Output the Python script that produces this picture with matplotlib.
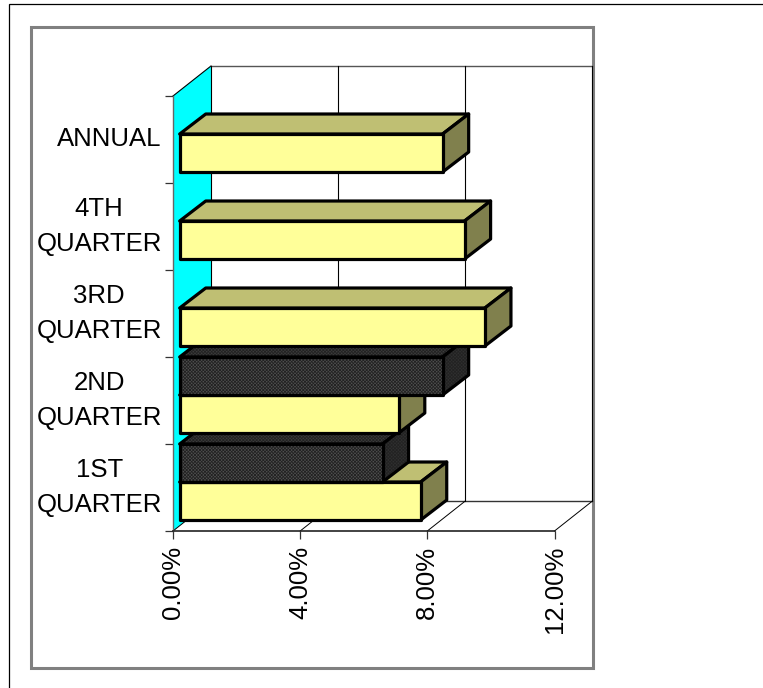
#!/usr/bin/env python

import matplotlib
matplotlib.use('Agg')
import matplotlib.pyplot as plt
from matplotlib.patches import Polygon, Rectangle

plt.rcParams['font.family'] = ['Liberation Sans', 'DejaVu Sans']
plt.rcParams['hatch.linewidth'] = 0.6

categories = ['1ST\nQUARTER', '2ND\nQUARTER', '3RD\nQUARTER', '4TH\nQUARTER', 'ANNUAL']
light_values = [7.58, 6.89, 9.60, 8.96, 8.27]
dark_values = [6.38, 8.27, None, None, None]
xticks = [0, 4, 8, 12]
xticklabels = ['0.00%', '4.00%', '8.00%', '12.00%']

W, H = 763, 688

# 3D look: depth of the box and of the bars, in data units
wall_dx, wall_dy = 1.195, 0.345
bar_dx, bar_dy = 0.82, 0.23
start = 0.21
gap = 0.126
bar_h = 0.437

fig = plt.figure(figsize=(W / 100, H / 100), dpi=100)
fig.patch.set_facecolor('white')

# outer border and chart frame
fig.add_artist(Rectangle((8.7 / W, -0.1), 1, 1 - 4.5 / H + 0.1, transform=fig.transFigure,
                         fill=False, ec='black', lw=0.9, zorder=-2))
fig.add_artist(Rectangle((30.8 / W, 1 - 667.5 / H), 562 / W, 640.5 / H, transform=fig.transFigure,
                         fill=False, ec='#808080', lw=2.2, zorder=-1))

ax = fig.add_axes([173 / W, 1 - 531 / H, 381.5 / W, 435 / H])
ax.patch.set_visible(False)
ax.set_xlim(0, 12)
ax.set_ylim(0, 5)

# side wall, back wall lines and floor
ax.add_patch(Polygon([(0, 0), (wall_dx, wall_dy), (wall_dx, 5 + wall_dy), (0, 5)],
                     fc='#00FFFF', ec='none', clip_on=False, zorder=1))
ax.plot([0, wall_dx], [5, 5 + wall_dy], color='black', lw=0.8, clip_on=False, zorder=2)
ax.plot([wall_dx, 12 + wall_dx], [5 + wall_dy] * 2, color='#555555', lw=1.0, clip_on=False, zorder=2)
ax.plot([wall_dx, 12 + wall_dx], [wall_dy] * 2, color='#333333', lw=1.0, clip_on=False, zorder=2)
for t in xticks:
    ax.plot([t + wall_dx] * 2, [wall_dy, 5 + wall_dy], color='black', lw=0.8, clip_on=False, zorder=2)
    ax.plot([t, t + wall_dx], [0, wall_dy], color='black', lw=0.7, clip_on=False, zorder=2)


def draw_bar(y0, value, front, top, side, z, hatch=None):
    x0 = start
    x1 = start + value
    y1 = y0 + bar_h
    faces = [
        ([(x0, y1), (x0 + bar_dx, y1 + bar_dy), (x1 + bar_dx, y1 + bar_dy), (x1, y1)], top),
        ([(x1, y0), (x1 + bar_dx, y0 + bar_dy), (x1 + bar_dx, y1 + bar_dy), (x1, y1)], side),
        ([(x0, y0), (x1, y0), (x1, y1), (x0, y1)], front),
    ]
    for pts, color in faces:
        if hatch:
            ax.add_patch(Polygon(pts, fc=color, ec='#222222', hatch=hatch, lw=0, clip_on=False, zorder=z))
            ax.add_patch(Polygon(pts, fill=False, ec='black', lw=2.3, joinstyle='round', clip_on=False, zorder=z))
        else:
            ax.add_patch(Polygon(pts, fc=color, ec='black', lw=2.3, joinstyle='round', clip_on=False, zorder=z))


# top category goes in front of the one below it
for i in range(len(categories)):
    z = 3 + i * 2
    draw_bar(i + gap, light_values[i], '#FFFF99', '#BFBF73', '#80804D', z)
    if dark_values[i] is not None:
        draw_bar(i + gap + bar_h, dark_values[i], '#505050', '#3C3C3C', '#303030', z + 1, hatch='xxxxxxxxxx')

ax.set_xticks(xticks)
ax.set_xticklabels(xticklabels, rotation=90, fontsize=18.5, color='black')
ax.tick_params(axis='x', length=5.8, width=0.9, pad=5, color='#333333')

ax.set_yticks(range(6))
ax.set_yticklabels([])
ax.tick_params(axis='y', which='major', length=5.8, width=0.9, color='#333333')
ax.set_yticks([i + 0.5 for i in range(5)], minor=True)
ax.set_yticklabels(categories, minor=True, fontsize=18.5, ha='right', va='center', multialignment='center', linespacing=1.6)
ax.tick_params(axis='y', which='minor', length=0, pad=8)

for s in ['top', 'right']:
    ax.spines[s].set_visible(False)
ax.spines['left'].set_color('#666666')
ax.spines['left'].set_linewidth(1.0)
ax.spines['left'].set_zorder(2)
ax.spines['bottom'].set_color('#222222')
ax.spines['bottom'].set_linewidth(1.2)
ax.spines['bottom'].set_zorder(2)

fig.savefig('out.png', dpi=100)
